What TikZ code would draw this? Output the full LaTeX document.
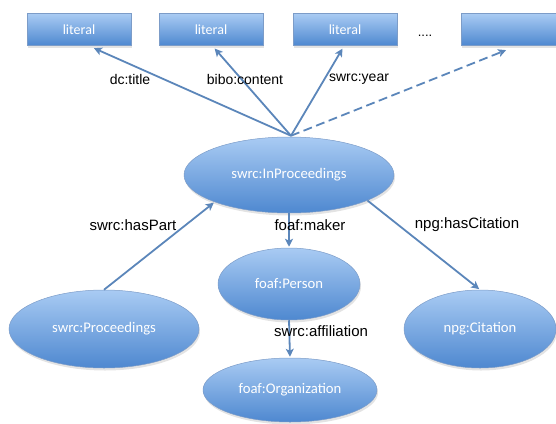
\documentclass[tikz,border=0pt]{standalone}
\usepackage{fontspec}
\setmainfont{Liberation Sans}
\newfontfamily\boxfont{Carlito}
\usetikzlibrary{shapes.geometric,arrows.meta,shadows,calc}

\definecolor{fillTop}{HTML}{A9CBF3}
\definecolor{fillBot}{HTML}{4E88D0}
\definecolor{edgeGray}{HTML}{7C9CC8}
\definecolor{linkBlue}{HTML}{5B86BA}

\tikzset{
  classnode/.style={ellipse, draw=edgeGray, line width=0.5pt,
    top color=fillTop, bottom color=fillBot, inner sep=0pt,
    font=\boxfont\fontsize{14.7}{16}\selectfont, text=white,
    drop shadow={opacity=0.22, shadow xshift=1pt, shadow yshift=-2.5pt}},
  litnode/.style={rectangle, draw=edgeGray, line width=0.5pt,
    top color=fillTop, bottom color=fillBot, inner sep=0pt,
    minimum width=104pt, minimum height=32pt,
    font=\boxfont\fontsize{14}{16}\selectfont, text=white,
    drop shadow={opacity=0.22, shadow xshift=1pt, shadow yshift=-2.5pt}},
  link/.style={draw=linkBlue, line width=1.8pt,
    -{Stealth[length=8pt,width=8pt,inset=2pt]}, shorten >=1pt},
  dashlink/.style={link, dash pattern=on 9pt off 4.5pt},
  toplabel/.style={font=\fontsize{14}{16}\selectfont, text=black, inner sep=1pt},
  midlabel/.style={font=\fontsize{15}{17}\selectfont, text=black, inner sep=1pt}
}

\begin{document}
\begin{tikzpicture}[x=1pt, y=-1pt]
  \useasboundingbox (0,0) rectangle (556,423);

  % literal boxes along the top
  \node[litnode] (lit1) at (79,29.5) {literal};
  \node[litnode] (lit2) at (211,29.5) {literal};
  \node[litnode] (lit3) at (345,29.5) {literal};
  \node[litnode] (lit4) at (513,29.5) {};
  \node[font=\fontsize{13}{15}\selectfont] (dots) at (425,35.5) {....};

  % class nodes
  \node[classnode, minimum width=210pt, minimum height=76pt] (inp) at (289,175) {swrc:InProceedings};
  \node[classnode, minimum width=190pt, minimum height=78pt] (proc) at (104,329) {swrc:Proceedings};
  \node[classnode, minimum width=142pt, minimum height=72pt] (pers) at (289,284) {foaf:Person};
  \node[classnode, minimum width=152pt, minimum height=78pt] (cit) at (480,329) {npg:Citation};
  \node[classnode, minimum width=174pt, minimum height=64pt] (org) at (290,390) {foaf:Organization};

  % literal-valued properties
  \coordinate (hub) at ($(inp.north)+(2,-1)$);
  \draw[link] (hub) -- ($(lit1.south)+(14,2)$);
  \draw[link] (hub) -- ($(lit2.south)+(3,2)$);
  \draw[link] (hub) -- ($(lit3.south)+(-2,2)$);
  \draw[dashlink] (hub) -- ($(lit4.south)+(-6,4)$);

  % object properties
  \draw[link] (proc.north) -- (inp.200);
  \draw[link] (inp.south) -- (pers.north);
  \draw[link] (inp.342) -- (cit.north);
  \draw[link] (pers.south) -- (org.north);

  % property labels
  \node[toplabel] (l1) at (130,79) {dc:title};
  \node[toplabel] (l2) at (245,79) {bibo:content};
  \node[toplabel] (l3) at (359,79) {swrc:year};
  \node[midlabel] (l4) at (133,225) {swrc:hasPart};
  \node[midlabel] (l5) at (310,225) {foaf:maker};
  \node[midlabel] (l6) at (467,225) {npg:hasCitation};
  \node[midlabel] (l7) at (321,331) {swrc:affiliation};
\end{tikzpicture}
\end{document}
